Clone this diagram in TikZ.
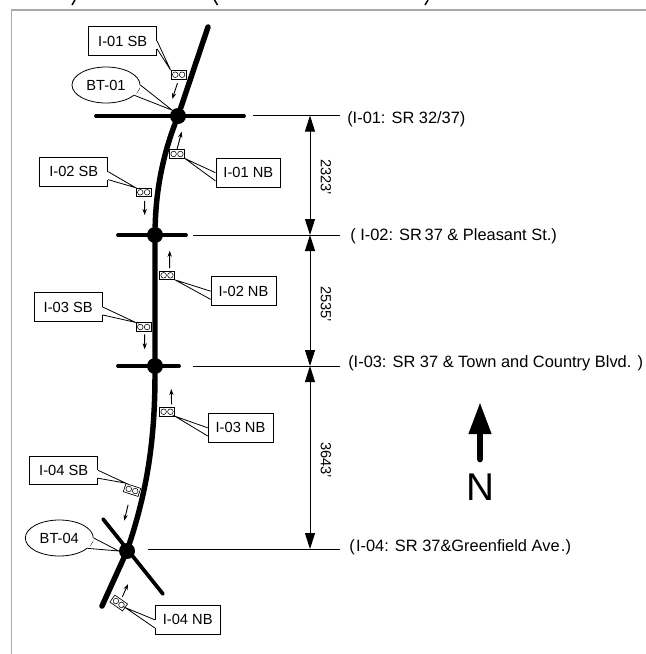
\documentclass[tikz,border=0pt]{standalone}
\usepackage{fontspec}
\setmainfont{Liberation Sans}
\definecolor{frameGray}{RGB}{170, 170, 170}
\usetikzlibrary{
  arrows.meta,
  positioning,
  calc,
  shapes.geometric,
}
% detector: small box holding two loop coils
\newcommand{\detector}[4]{%
  \node[detbox, rotate=-#4] (#1) at (#2,#3) {};
  \node[detcoil] (#1a) at ($(#1)+(#4:3.4)$) {};
  \node[detcoil] (#1b) at ($(#1)+(#4+180:3.4)$) {};
}
% label tail: opens the outline of the label, two lines run to the target
\newcommand{\labeltail}[4]{%
  \draw[white, line width=1.1pt] (#1.#2) -- (#1.#3);
  \draw[tail] (#1.#2) -- (#4) -- (#1.#3);
}

\begin{document}
\begin{tikzpicture}[
  x=0.75pt, y=-0.75pt,
  font=\fontsize{11}{13}\selectfont,
  road/.style    ={line width=4.1pt, line cap=round},
  street/.style  ={line width=2.8pt, line cap=round},
  junction/.style={circle, fill=black, inner sep=0pt, minimum size=12pt},
  sblabel/.style ={draw, line width=0.6pt, fill=white, inner sep=0pt,
                   minimum width=51pt, minimum height=21.5pt},
  nblabel/.style ={sblabel, minimum width=48.6pt},
  btlabel/.style ={draw, ellipse, line width=0.6pt, fill=white, inner sep=0pt,
                   minimum width=51pt, minimum height=27pt},
  tail/.style    ={line width=0.6pt},
  detbox/.style  ={draw, line width=0.5pt, fill=white, inner sep=0pt,
                   minimum width=11.6pt, minimum height=6.4pt},
  detcoil/.style ={draw, circle, line width=0.4pt, inner sep=0pt,
                   minimum size=4.2pt},
  flow/.style    ={-{Stealth[length=4.5pt, width=3.2pt]}, line width=0.7pt},
  extline/.style ={line width=0.7pt},
  dimline/.style ={{Triangle[length=12pt, width=7.5pt]}-{Triangle[length=12pt, width=7.5pt]},
                   line width=0.7pt},
  dimtext/.style ={rotate=-90, inner sep=0pt},
  place/.style   ={anchor=west, inner sep=0pt, font=\fontsize{12.3}{14}\selectfont},
]
  \useasboundingbox (0,0) rectangle (646,654);

  % Sheet edge and what is left of the cut-off heading
  \draw[frameGray, line width=0.8pt] (11.5,654) -- (11.5,10) -- (646,10);
  \draw[line width=1.1pt] (75,0) -- (72,5);
  \draw[line width=1.1pt] (214.5,0) -- (217.5,5);
  \draw[line width=1.1pt] (428,0) -- (425,5);

  % Intersections
  \node[junction] (j1) at (178,116) {};
  \node[junction] (j2) at (155,235) {};
  \node[junction] (j3) at (155,366) {};
  \node[junction] (j4) at (127,551) {};

  % Road ends
  \coordinate (north) at (208,27);
  \coordinate (south) at (102,606);
  \coordinate (w1) at (96,116);
  \coordinate (e1) at (244,116);
  \coordinate (w2) at (118,235);
  \coordinate (e2) at (186,235);
  \coordinate (w3) at (118,366);
  \coordinate (e3) at (179,366);
  \coordinate (w4) at (103,519);
  \coordinate (e4) at (163,594);

  \draw[road] (north) -- (j1) .. controls (165,150) and (156,185) .. (j2)
    -- (j3) .. controls (155,440) and (147,490) .. (j4) -- (south);
  \draw[street] (w1) -- (e1);
  \draw[street] (w2) -- (e2);
  \draw[street] (w3) -- (e3);
  \draw[street] (w4) -- (e4);

  % Detectors
  \detector{d1s}{178.7}{74.7}{0}
  \detector{d1n}{177}{154}{0}
  \detector{d2s}{143.7}{192.3}{0}
  \detector{d2n}{167}{275.3}{0}
  \detector{d3s}{143.7}{327}{0}
  \detector{d3n}{167}{411.7}{0}
  \detector{d4s}{132}{490}{18}
  \detector{d4n}{118.7}{603}{35}

  % Labels
  \node[sblabel] (l1s) at (122.7,41) {I-01 SB};
  \node[nblabel] (l1n) at (248.3,172.7) {I-01 NB};
  \node[sblabel] (l2s) at (73.8,171.7) {I-02 SB};
  \node[nblabel] (l2n) at (243.5,291.2) {I-02 NB};
  \node[sblabel] (l3s) at (68.2,307) {I-03 SB};
  \node[nblabel] (l3n) at (240.5,427.8) {I-03 NB};
  \node[sblabel] (l4s) at (63.7,470.3) {I-04 SB};
  \node[nblabel] (l4n) at (187.7,619.8) {I-04 NB};
  \node[btlabel] (bt1) at (106,85) {BT-01};
  \node[btlabel] (bt4) at (59.3,538) {BT-04};

  \labeltail{l1s}{east}{-13}{d1s.north west}
  \labeltail{l2s}{east}{-13}{d2s.north west}
  \labeltail{l3s}{east}{-13}{d3s.north west}
  \labeltail{l4s}{east}{-13}{d4s.north west}
  \labeltail{l1n}{west}{194}{d1n.south east}
  \labeltail{l2n}{west}{194}{d2n.south east}
  \labeltail{l3n}{west}{194}{d3n.south east}
  \labeltail{l4n}{west}{194}{d4n.east}
  \labeltail{bt1}{0}{-20}{j1.north west}
  \labeltail{bt4}{0}{-20}{j4.west}

  % Travel direction at each detector
  \coordinate (f1s) at (172.3,99);
  \coordinate (f1n) at (181.7,131.7);
  \coordinate (f2s) at (144.7,215);
  \coordinate (f2n) at (169.7,250.7);
  \coordinate (f3s) at (144.7,349.3);
  \coordinate (f3n) at (171.3,389);
  \coordinate (f4s) at (124.3,520.7);
  \coordinate (f4n) at (128,584);

  \draw[flow, shorten <=3pt] (d1s.south) -- (f1s);
  \draw[flow] (d1n.north) -- (f1n);
  \draw[flow, shorten <=3pt] (d2s.-80) -- (f2s);
  \draw[flow, shorten <=2pt] (d2n.60) -- (f2n);
  \draw[flow, shorten <=2pt] (d3s.-80) -- (f3s);
  \draw[flow, shorten <=2pt] (d3n.45) -- (f3n);
  \draw[flow, shorten <=8pt] (d4s.south) -- (f4s);
  \draw[flow, shorten <=2pt] (d4n.north) -- (f4n);

  % Spacing between intersections
  \coordinate (x1) at (253,115.5);
  \coordinate (y1) at (340,115.5);
  \coordinate (m1) at (310,115.5);
  \coordinate (x2) at (193,235);
  \coordinate (y2) at (340,235);
  \coordinate (m2) at (310,235);
  \coordinate (x3) at (193,366);
  \coordinate (y3) at (340,366);
  \coordinate (m3) at (310,366);
  \coordinate (x4) at (148,549);
  \coordinate (y4) at (340,549);
  \coordinate (m4) at (310,549);

  \draw[extline] (x1) -- (y1);
  \draw[extline] (x2) -- (y2);
  \draw[extline] (x3) -- (y3);
  \draw[extline] (x4) -- (y4);
  \draw[dimline] (m1) -- (m2);
  \draw[dimline] (m2) -- (m3);
  \draw[dimline] (m3) -- (m4);

  \node[dimtext] (s1) at (326,177) {2323'};
  \node[dimtext] (s2) at (326,304) {2535'};
  \node[dimtext] (s3) at (326,460) {3643'};

  % Intersection names
  \node[place] (p1) at (347,119) {(I-01: SR 32/37)};
  \node[place] (p2) at (350,236) {( I-02: SR\,37 \& Pleasant St.)};
  \node[place] (p3) at (348,363) {(I-03: SR 37 \& Town and Country Blvd. )};
  \node[place] (p4) at (349,547) {(\kern1pt I-04: SR 37\&Greenfield Ave\kern1pt.)};

  % North arrow
  \node[font=\fontsize{29}{32}\selectfont, inner sep=0pt] (nmark) at (480,487) {N};
  \coordinate (ntail) at (480,459);
  \coordinate (ntip) at (480,402);
  \draw[-{Triangle[length=24pt, width=15.8pt]}, line width=5pt, line cap=round]
    (ntail) -- (ntip);
\end{tikzpicture}
\end{document}
